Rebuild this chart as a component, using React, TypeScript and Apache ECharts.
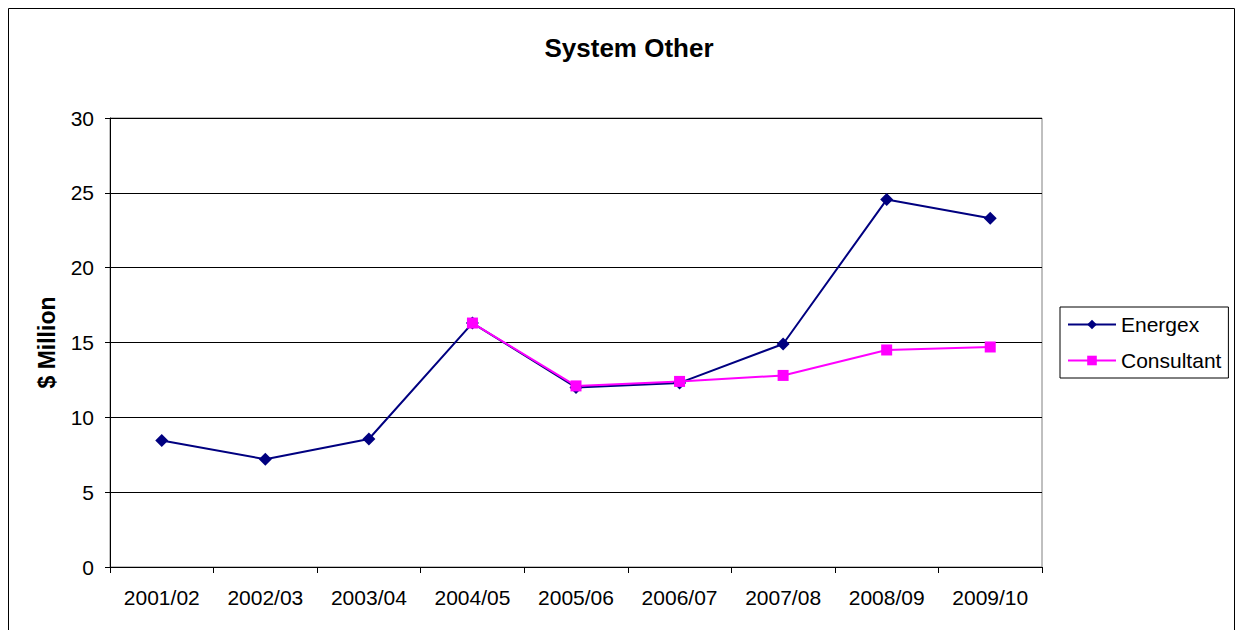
import React, { useEffect, useRef } from "react";
import * as echarts from "echarts";

const categories = ["2001/02", "2002/03", "2003/04", "2004/05", "2005/06", "2006/07", "2007/08", "2008/09", "2009/10"];
const energex = [8.45, 7.2, 8.55, 16.3, 12.0, 12.3, 14.9, 24.55, 23.3];
const consultant = [null, null, null, 16.3, 12.1, 12.4, 12.8, 14.5, 14.7];
const yTicks = [0, 5, 10, 15, 20, 25, 30];

export default function App() {
  const ref = useRef<HTMLDivElement>(null);
  useEffect(() => {
    if (!ref.current) return;
    const chart = echarts.init(ref.current, null, { renderer: "svg" });
    const font = "Liberation Sans, Arial, sans-serif";
    chart.setOption({
      animation: false,
      backgroundColor: "#ffffff",
      title: {
        text: "System Other",
        left: 624,
        top: 30,
        textAlign: "center",
        textStyle: { fontFamily: font, fontSize: 26, fontWeight: "bold", color: "#000" },
      },
      graphic: [
        {
          type: "rect",
          shape: { x: 8.5, y: 8.5, width: 1226, height: 640 },
          style: { fill: "none", stroke: "#000", lineWidth: 1 },
          silent: true,
        },
      ],
      legend: {
        orient: "vertical",
        left: 1060,
        top: 307,
        padding: [6, 7, 6, 7],
        itemGap: 13,
        itemWidth: 48,
        itemHeight: 12,
        borderColor: "#000",
        borderWidth: 1,
        textStyle: { fontFamily: font, fontSize: 21, color: "#000", lineHeight: 23 },
        data: ["Energex", "Consultant"],
      },
      grid: {
        left: 110,
        right: 198,
        top: 118,
        bottom: 63,
        show: true,
        borderColor: "#808080",
        borderWidth: 1,
        backgroundColor: "transparent",
      },
      xAxis: {
        type: "category",
        data: categories,
        boundaryGap: true,
        axisLine: { lineStyle: { color: "#000", width: 1 } },
        axisTick: { show: true, length: 6, lineStyle: { color: "#000" }, alignWithLabel: false },
        axisLabel: { fontFamily: font, fontSize: 21, color: "#000", margin: 20 },
      },
      yAxis: {
        type: "value",
        min: 0,
        max: 30,
        interval: 5,
        name: "$ Million",
        nameLocation: "middle",
        nameGap: 52,
        nameTextStyle: { fontFamily: font, fontSize: 23, fontWeight: "bold", color: "#000" },
        axisLine: { show: true, lineStyle: { color: "#000", width: 1 } },
        axisTick: { show: true, length: 5, lineStyle: { color: "#000" } },
        axisLabel: {
          fontFamily: font,
          fontSize: 21,
          color: "#000",
          margin: 16,
          formatter: (v: number) => (yTicks.includes(v) ? String(v) : ""),
        },
        splitLine: { show: true, lineStyle: { color: "#000", width: 1 } },
      },
      series: [
        {
          name: "Energex",
          type: "line",
          data: energex,
          color: "#000080",
          symbol: "diamond",
          symbolSize: 13,
          lineStyle: { width: 2, color: "#000080" },
          itemStyle: { color: "#000080" },
        },
        {
          name: "Consultant",
          type: "line",
          data: consultant,
          color: "#FF00FF",
          symbol: "rect",
          symbolSize: 11,
          lineStyle: { width: 2, color: "#FF00FF" },
          itemStyle: { color: "#FF00FF" },
        },
      ],
    });
    return () => chart.dispose();
  }, []);
  return (
    <div
      ref={ref}
      style={{ position: "fixed", left: 0, top: 0, width: 1240, height: 630, background: "#fff" }}
    />
  );
}
